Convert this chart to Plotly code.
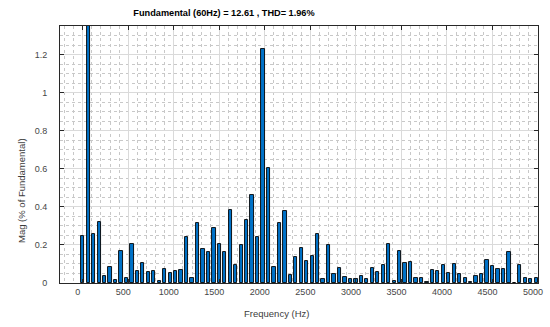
import plotly.graph_objects as go

# Harmonic frequencies (Hz): DC, 60 Hz fundamental and its multiples up to 4980 Hz
harmonic_order = list(range(0, 84))
freq_hz = [60 * h for h in harmonic_order]

# Magnitude (% of fundamental); fundamental = 100 (clipped)
mag_pct = [
    0.246, 100.0, 0.257, 0.320, 0.037, 0.083, 0.018, 0.170, 0.026, 0.204,
    0.063, 0.107, 0.056, 0.063, 0.011, 0.072, 0.051, 0.062, 0.067, 0.241,
    0.026, 0.316, 0.176, 0.165, 0.288, 0.204, 0.165, 0.383, 0.093, 0.202,
    0.332, 0.462, 0.244, 1.230, 0.603, 0.083, 0.316, 0.378, 0.044, 0.139,
    0.183, 0.116, 0.141, 0.260, 0.021, 0.199, 0.046, 0.081, 0.033, 0.022,
    0.022, 0.038, 0.022, 0.077, 0.056, 0.095, 0.206, 0.009, 0.169, 0.104,
    0.112, 0.028, 0.025, 0.004, 0.069, 0.063, 0.097, 0.051, 0.098, 0.047,
    0.028, 0.004, 0.035, 0.046, 0.123, 0.088, 0.072, 0.074, 0.163, 0.002,
    0.095, 0.028, 0.019, 0.025,
]

x_ticks = [0, 500, 1000, 1500, 2000, 2500, 3000, 3500, 4000, 4500, 5000]
y_ticks = [0, 0.2, 0.4, 0.6, 0.8, 1.0, 1.2]
y_tick_labels = ["0", "0.2", "0.4", "0.6", "0.8", "1", "1.2"]

title_text = "Fundamental (60Hz) = 12.61 , THD= 1.96%"
x_title = "Frequency (Hz)"
y_title = "Mag (% of Fundamental)"

FONT = "Liberation Sans, Arial, sans-serif"
W, H = 550, 327

fig = go.Figure(
    go.Bar(
        x=freq_hz,
        y=mag_pct,
        width=36,
        marker=dict(color="rgb(0,114,200)", line=dict(color="black", width=0.9)),
    )
)

axis_common = dict(
    showline=True,
    linecolor="rgb(40,40,40)",
    linewidth=1,
    mirror="ticks",
    ticks="inside",
    ticklen=4,
    tickcolor="rgb(40,40,40)",
    showgrid=True,
    gridcolor="rgb(218,218,218)",
    gridwidth=1,
    zeroline=False,
    automargin=False,
    tickfont=dict(family=FONT, size=9, color="rgb(70,70,70)"),
)

fig.update_xaxes(
    **axis_common,
    range=[-250, 5000],
    tickvals=x_ticks,
    ticktext=[str(v) for v in x_ticks],
    ticklabelshift=-5,
    minor=dict(dtick=100, showgrid=True, gridcolor="rgb(200,200,200)", griddash="dot", gridwidth=1, ticks=""),
)
fig.update_yaxes(
    **axis_common,
    range=[0, 1.35],
    tickvals=y_ticks,
    ticktext=y_tick_labels,
    ticklabelstandoff=10,
    minor=dict(dtick=0.05, showgrid=True, gridcolor="rgb(200,200,200)", griddash="dot", gridwidth=1, ticks=""),
)

fig.update_layout(
    width=W,
    height=H,
    margin=dict(l=60, r=12, t=26, b=44, autoexpand=False),
    paper_bgcolor="white",
    plot_bgcolor="white",
    showlegend=False,
    bargap=0,
    font=dict(family=FONT, color="rgb(40,40,40)"),
    title=dict(
        text="<b>" + title_text + "</b>",
        x=224 / W,
        xanchor="center",
        xref="container",
        y=1 - 13 / H,
        yanchor="middle",
        yref="container",
        font=dict(family=FONT, size=9.2, color="black"),
    ),
    annotations=[
        dict(
            text=x_title, xref="paper", yref="paper",
            x=(276 - 60) / 478, y=-(313 - 283) / 257,
            xanchor="center", yanchor="middle", showarrow=False,
            font=dict(family=FONT, size=9.5, color="rgb(60,60,60)"),
        ),
        dict(
            text=y_title, xref="paper", yref="paper",
            x=(22 - 60) / 478, y=(283 - 191) / 257,
            xanchor="center", yanchor="middle", showarrow=False, textangle=-90,
            font=dict(family=FONT, size=9.5, color="rgb(60,60,60)"),
        ),
    ],
)

fig.write_html(
    "out.html",
    config={"displayModeBar": False},
    post_script="document.body.style.margin='0';document.body.style.overflow='hidden';",
)
